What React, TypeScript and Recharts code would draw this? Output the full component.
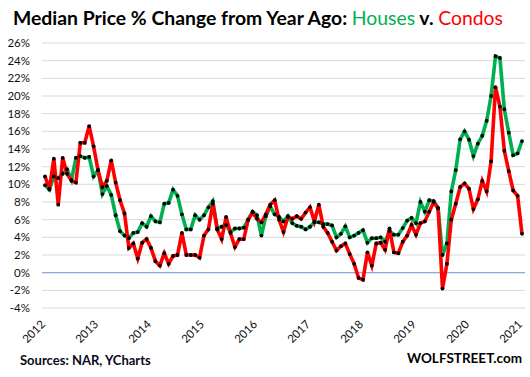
import { LineChart, Line, XAxis, YAxis, CartesianGrid, ReferenceLine } from "recharts";

// monthly, Jan 2012 .. Jan 2021 (% change from year ago)
const houses = [
  9.9, 9.4, 10.9, 10.7, 11.2, 11.7, 10.5, 13.0, 13.2, 13.0, 13.1, 10.9,
  11.6, 8.9, 9.8, 8.8, 6.5, 4.7, 4.2, 3.9, 4.5, 4.6, 5.6, 5.2,
  6.4, 5.8, 5.7, 7.8, 7.9, 9.4, 8.7, 6.6, 4.9, 4.9, 6.5, 6.0,
  6.5, 7.4, 8.1, 5.0, 5.2, 5.4, 4.6, 5.0, 5.0, 5.1, 6.0, 6.9,
  6.5, 4.2, 6.4, 7.5, 6.6, 6.3, 5.8, 6.4, 5.6, 5.3, 5.2, 4.9,
  5.2, 5.7, 5.7, 5.5, 5.5, 5.35, 4.0, 4.4, 5.25, 4.0, 4.2, 4.5,
  4.8, 3.4, 3.9, 3.9, 4.0, 3.5, 4.7, 4.3, 4.3, 5.05, 5.9, 6.2,
  5.6, 8.0, 6.9, 8.2, 8.1, 7.3, 2.0, 3.3, 9.2, 11.6, 15.1, 16.0,
  15.05, 13.2, 14.6, 15.5, 17.2, 20.0, 24.5, 24.3, 18.5, 15.85, 13.3, 13.5,
  14.9,
];

const condos = [
  10.9, 9.5, 12.9, 7.7, 13.0, 11.2, 10.4, 10.2, 14.7, 14.7, 16.6, 14.3,
  11.6, 9.7, 10.4, 12.7, 10.2, 8.2, 6.7, 2.8, 3.3, 1.6, 3.4, 3.8,
  2.8, 1.3, 0.8, 2.2, 1.0, 1.9, 2.0, 4.5, 2.0, 2.0, 2.0, 1.7,
  4.2, 4.9, 7.8, 4.9, 3.8, 6.3, 4.5, 2.9, 3.8, 3.8, 6.0, 6.8,
  6.1, 5.7, 6.6, 7.7, 8.2, 6.0, 4.6, 6.3, 6.1, 6.4, 6.1, 6.8,
  7.4, 5.8, 7.7, 5.2, 4.5, 3.5, 2.5, 3.0, 3.3, 2.1, 1.0, -0.6,
  -0.8, 2.3, 0.8, 3.3, 3.4, 2.6, 5.0, 2.3, 2.2, 3.5, 4.2, 5.4,
  4.3, 5.6, 5.8, 6.9, 8.0, 7.3, -1.8, 1.0, 6.0, 7.8, 9.7, 10.1,
  9.5, 7.2, 8.3, 10.4, 9.2, 12.6, 21.0, 18.8, 13.8, 11.5, 9.3, 8.7,
  4.4,
];

const years = ["2012", "2013", "2014", "2015", "2016", "2017", "2018", "2019", "2020", "2021"];
const yTicks = [-4, -2, 0, 2, 4, 6, 8, 10, 12, 14, 16, 18, 20, 22, 24, 26];

const data = houses.map((h, i) => ({ m: i, houses: h, condos: condos[i] }));
const xTicks = years.map((_, i) => i * 12);

const FONT = "Lato, 'Open Sans', sans-serif";
const GREEN = "#00b050";
const RED = "#ff0000";

function YearTick(props: any) {
  const { x, y, payload } = props;
  const ax = x + 1;
  const ay = y + 17;
  return (
    <text
      x={ax}
      y={ay}
      transform={`rotate(-45 ${ax} ${ay})`}
      textAnchor="end"
      fontSize={11.5}
      fontFamily={FONT}
      fill="#111"
    >
      {years[payload.value / 12]}
    </text>
  );
}

export default function App() {
  return (
    <div style={{ position: "absolute", left: 0, top: 0, width: 530, height: 377, background: "#fff" }}>
      <LineChart
        width={530}
        height={377}
        data={data}
        margin={{ top: 43, right: 5, left: 0, bottom: 0 }}
      >
        <CartesianGrid vertical={false} stroke="#d9d9d9" strokeWidth={1} />
        <XAxis
          dataKey="m"
          type="number"
          domain={[0, 108]}
          ticks={xTicks}
          interval={0}
          height={69}
          axisLine={false}
          tickLine={false}
          tickSize={0}
          tickMargin={0}
          padding={{ left: 3, right: 3 }}
          tick={<YearTick />}
        />
        <YAxis
          domain={[-4, 26]}
          ticks={yTicks}
          interval={0}
          width={42}
          axisLine={false}
          tickLine={false}
          tickSize={0}
          tickMargin={12}
          tickFormatter={(v) => `${v}%`}
          tick={{ fontSize: 11.5, fontFamily: FONT, fill: "#111" }}
        />
        <ReferenceLine y={0} stroke="#8eaadb" strokeWidth={1.3} />
        <Line
          type="linear"
          dataKey="houses"
          stroke={GREEN}
          strokeWidth={3.6}
          dot={{ r: 1.9, fill: "#000", stroke: "none" }}
          isAnimationActive={false}
        />
        <Line
          type="linear"
          dataKey="condos"
          stroke={RED}
          strokeWidth={3.6}
          dot={{ r: 1.9, fill: "#000", stroke: "none" }}
          isAnimationActive={false}
        />
      </LineChart>
      <svg
        width={530}
        height={377}
        style={{ position: "absolute", left: 0, top: 0, pointerEvents: "none" }}
      >
        <text
          x={13}
          y={25}
          fontFamily={FONT}
          fontWeight={700}
          fontSize={19}
          textLength={490}
          lengthAdjust="spacingAndGlyphs"
          fill="#000"
        >
          Median Price % Change from Year Ago:{" "}
          <tspan fill={GREEN} fontWeight={400}>Houses</tspan>
          <tspan> v. </tspan>
          <tspan fill={RED} fontWeight={400}>Condos</tspan>
        </text>
        <text x={20} y={365} fontFamily={FONT} fontWeight={700} fontSize={13} fill="#0a0a1a">
          Sources: NAR, YCharts
        </text>
        <text x={522} y={363} textAnchor="end" fontFamily={FONT} fontWeight={700} fontSize={13.5} fill="#000">
          WOLFSTREET.com
        </text>
      </svg>
    </div>
  );
}
